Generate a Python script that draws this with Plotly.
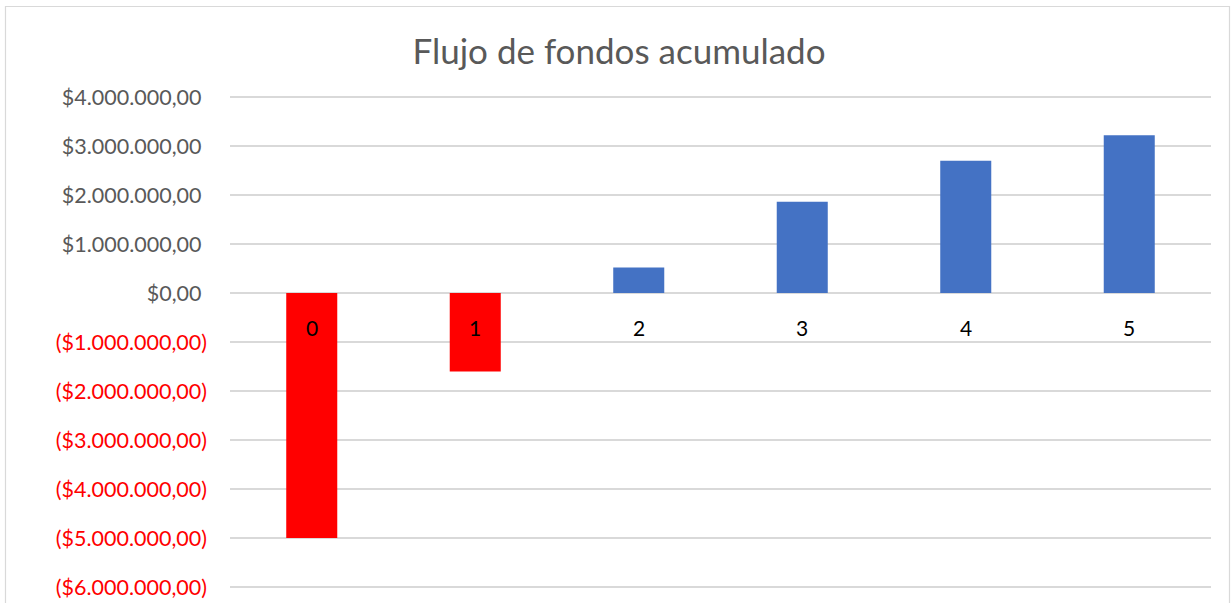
import plotly.graph_objects as go

# Cumulative cash flow per period
periods = ["0", "1", "2", "3", "4", "5"]
cumulative_flow = [-5000000, -1600000, 520000, 1860000, 2700000, 3220000]

# Y axis ticks and their labels (negatives shown in red, in parentheses)
tick_values = [4000000, 3000000, 2000000, 1000000, 0,
               -1000000, -2000000, -3000000, -4000000, -5000000, -6000000]


def money_label(v):
    s = f"{abs(v):,.2f}".replace(",", "X").replace(".", ",").replace("X", ".")
    if v < 0:
        return f"<span style='color:#ff0000'>(${s})</span>"
    return f"${s}\u00a0"


tick_labels = [money_label(v) for v in tick_values]

bar_colors = ["#ff0000" if v < 0 else "#4472c4" for v in cumulative_flow]

# small padding so the outermost gridlines are drawn inside the plot area
PAD = 3 / 49 * 1000000
y_lo = -6000000 - PAD
y_hi = 4000000 + PAD

fig = go.Figure()
fig.add_trace(go.Bar(
    x=periods,
    y=cumulative_flow,
    marker=dict(color=bar_colors, line=dict(width=0)),
    hoverinfo="skip",
))

# Category labels sit just below the zero line
for p in periods:
    fig.add_annotation(
        x=p, y=0, xref="x", yref="y",
        text=p, showarrow=False,
        yanchor="middle", yshift=-34,
        font=dict(family="Lato", size=21, color="#000000"),
    )

# Chart frame (paper coordinates relative to the plot area)
plot_top, plot_bottom = 94, 590
plot_h = plot_bottom - plot_top
fig.add_shape(
    type="rect", xref="paper", yref="paper",
    x0=(5.5 - 230) / 981, x1=(1229.5 - 230) / 981,
    y0=-0.2, y1=(plot_bottom - 6.5) / plot_h,
    line=dict(color="#d9d9d9", width=1.2),
    fillcolor="rgba(0,0,0,0)",
    layer="below",
)

fig.update_layout(
    width=1232, height=603,
    margin=dict(l=230, r=21, t=plot_top, b=603 - plot_bottom, pad=0),
    paper_bgcolor="white",
    plot_bgcolor="white",
    bargap=0.688,
    showlegend=False,
    title=dict(
        text="Flujo de fondos acumulado",
        x=619 / 1232, xanchor="center", xref="container",
        y=1 - 52 / 603, yanchor="middle", yref="container",
        font=dict(family="Lato", size=35, color="#595959"),
        automargin=False,
    ),
    font=dict(family="Lato", size=21, color="#595959"),
    xaxis=dict(
        showticklabels=False,
        showgrid=False,
        zeroline=False,
        showline=False,
        ticks="",
        automargin=False,
    ),
    yaxis=dict(
        range=[y_lo, y_hi],
        tickmode="array",
        tickvals=tick_values,
        ticktext=tick_labels,
        showgrid=True,
        gridcolor="#d9d9d9",
        gridwidth=1.5,
        zeroline=True,
        zerolinecolor="#d9d9d9",
        zerolinewidth=1.5,
        showline=False,
        ticks="",
        ticklabelstandoff=22,
        automargin=False,
        tickfont=dict(family="Lato", size=21.5, color="#595959"),
    ),
)

fig.write_html("out.html")
